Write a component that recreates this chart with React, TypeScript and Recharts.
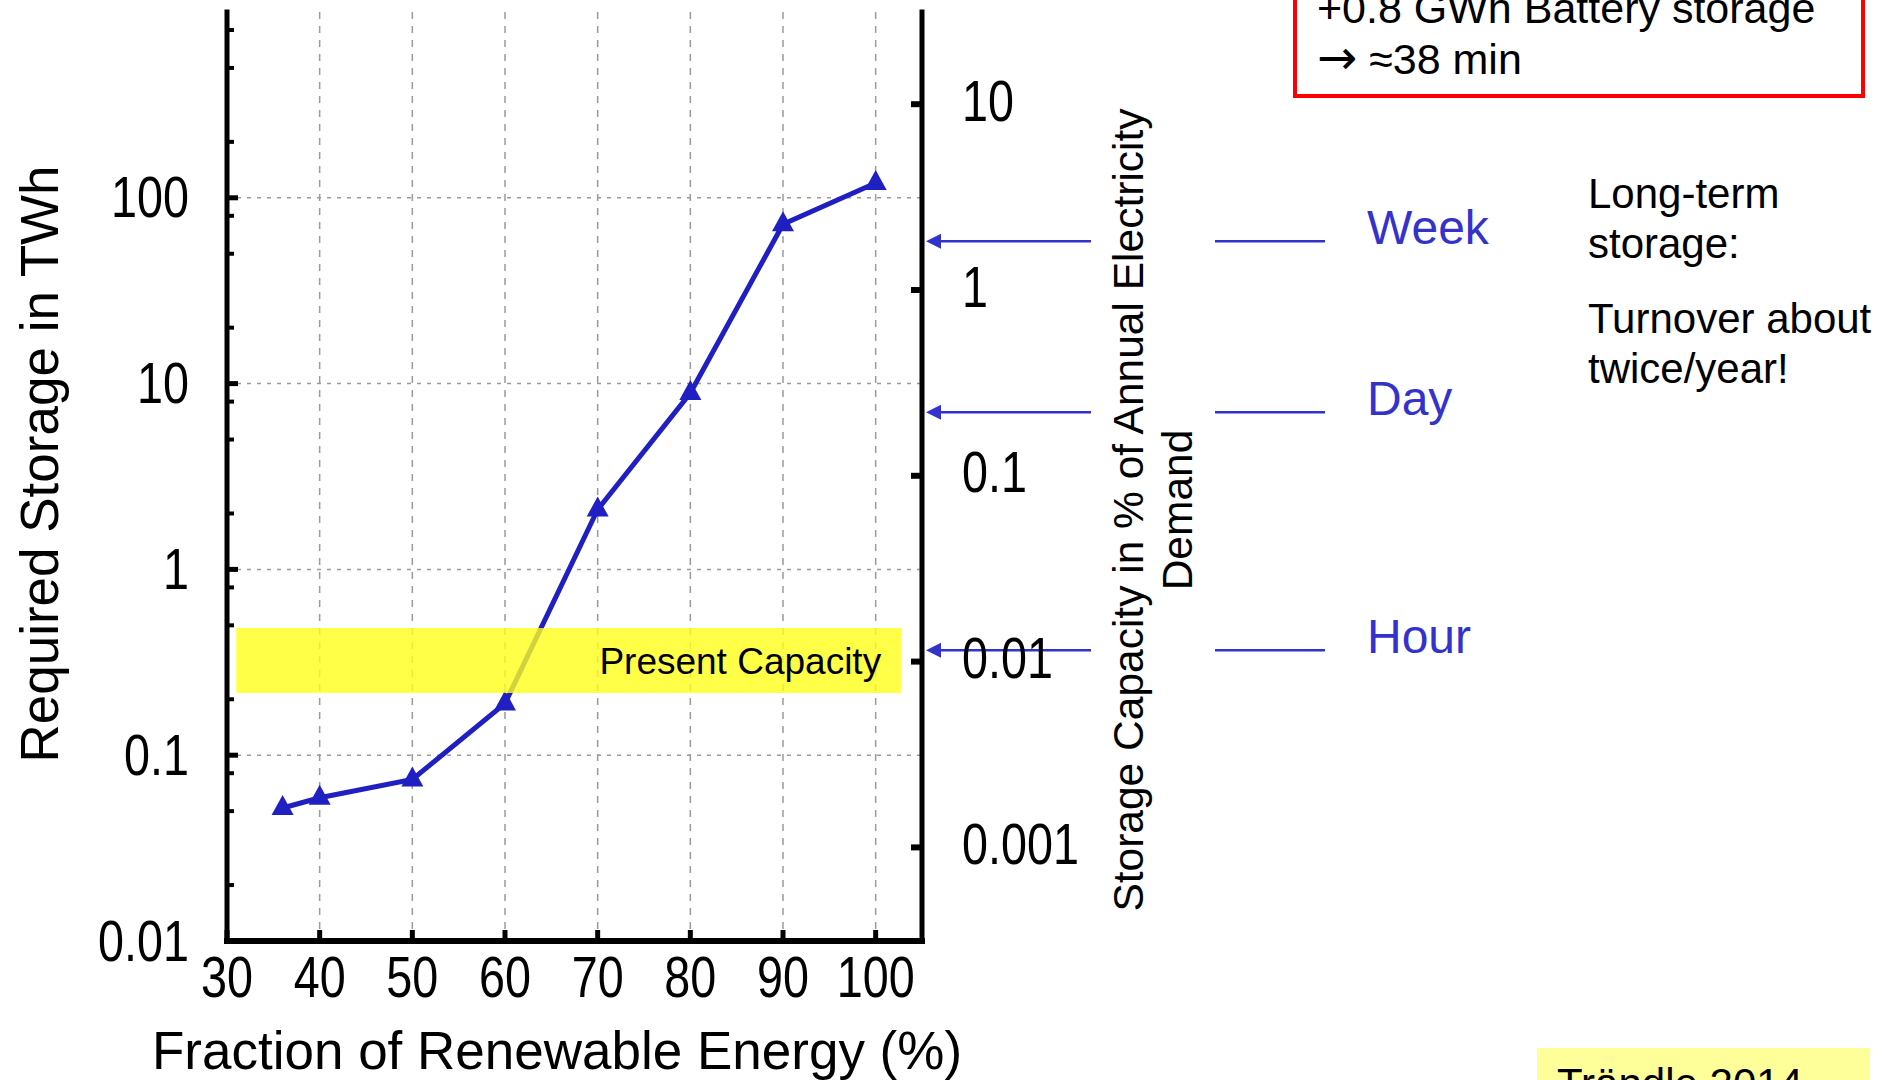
import React from "react";
import {
  CartesianGrid,
  Line,
  LineChart,
  ReferenceArea,
  ReferenceLine,
  XAxis,
  YAxis,
} from "recharts";

// renewable share (%) and required storage (TWh)
const renewableShare = [36, 40, 50, 60, 70, 80, 90, 100];
const storageTWh = [0.052, 0.059, 0.074, 0.19, 2.1, 8.9, 72, 120];

const xTicks = [30, 40, 50, 60, 70, 80, 90, 100];
const xGridValues = [40, 50, 60, 70, 80, 90, 100];
const leftMajorTicks = [0.01, 0.1, 1, 10, 100];
const leftMinorTicks = [0.02, 0.05, 0.08, 0.2, 0.5, 0.8, 2, 5, 8, 20, 50, 80, 200, 500, 800];
const leftGridValues = [0.1, 1, 10, 100];
const rightTicks = [0.001, 0.01, 0.1, 1, 10];

// TWh that make up 1 % of annual electricity demand
const TWH_PER_PERCENT = 31.9;

const durationLabels = ["Week", "Day", "Hour"];
const durationPercent = [1.83, 0.22, 0.0115];

// present storage capacity band (TWh) and its x extent
const capacityRange = [0.216, 0.484];
const capacityShare = [31, 102.75];

const FONT = "'Liberation Sans', Arial, Helvetica, sans-serif";
const LINE_BLUE = "#1f1fc2";
const NOTE_BLUE = "#3333cc";

const data = renewableShare.map((share, i) => ({ share, storage: storageTWh[i] }));
const leftTicks = [...leftMajorTicks, ...leftMinorTicks].sort((a, b) => a - b);

const fmt = (v: number) => String(v);

function LeftTick(props: any) {
  const { x, y, payload } = props;
  const major = leftMajorTicks.includes(payload.value);
  return (
    <g>
      <line x1={x} x2={x + (major ? 11 : 7)} y1={y} y2={y} stroke="#000" strokeWidth={major ? 5 : 4} />
      {major && (
        <text
          transform={`translate(${x - 38},${y}) scale(0.82,1)`}
          textAnchor="end"
          dominantBaseline="central"
          fontSize={57}
          fontFamily={FONT}
          fill="#000"
        >
          {fmt(payload.value)}
        </text>
      )}
    </g>
  );
}

function RightTick(props: any) {
  const { x, y, payload } = props;
  return (
    <g>
      <line x1={x} x2={x - 11} y1={y} y2={y} stroke="#000" strokeWidth={6} />
      <text
        transform={`translate(${x + 40},${y - 3}) scale(0.82,1)`}
        textAnchor="start"
        dominantBaseline="central"
        fontSize={57}
        fontFamily={FONT}
        fill="#000"
      >
        {fmt(payload.value)}
      </text>
    </g>
  );
}

function BottomTick(props: any) {
  const { x, y, payload } = props;
  return (
    <g>
      <line x1={x} x2={x} y1={y} y2={y - 11} stroke="#000" strokeWidth={5} />
      <text
        transform={`translate(${x},${y + 36}) scale(0.82,1)`}
        textAnchor="middle"
        dominantBaseline="central"
        fontSize={57}
        fontFamily={FONT}
        fill="#000"
      >
        {fmt(payload.value)}
      </text>
    </g>
  );
}

function TopTick(props: any) {
  const { x, y } = props;
  return <line x1={x} x2={x} y1={y} y2={y + 11} stroke="#000" strokeWidth={5} />;
}

function TriangleDot(props: any) {
  const { cx, cy, index } = props;
  return (
    <path
      key={`tri-${index}`}
      d={`M${cx},${cy - 13} L${cx + 11},${cy + 7} L${cx - 11},${cy + 7} Z`}
      fill={LINE_BLUE}
    />
  );
}

function durationShape(label: string) {
  return (props: any) => {
    const { x1, x2, y1 } = props;
    const right = Math.max(x1, x2);
    const y = y1;
    const tip = right + 4;
    return (
      <g>
        <line x1={tip + 12} x2={right + 169} y1={y} y2={y} stroke={NOTE_BLUE} strokeWidth={2.5} />
        <path d={`M${tip},${y} L${tip + 15},${y - 7.5} L${tip + 15},${y + 7.5} Z`} fill={NOTE_BLUE} />
        <line x1={right + 293} x2={right + 403} y1={y} y2={y} stroke={NOTE_BLUE} strokeWidth={2.5} />
        <text x={right + 445} y={y + 3} fontSize={48} fontFamily={FONT} fill={NOTE_BLUE}>
          {label}
        </text>
      </g>
    );
  };
}

export default function App() {
  return (
    <div style={{ position: "relative", width: 1897, height: 1080, overflow: "hidden", background: "#fff" }}>
      <style>{`html,body{margin:0;padding:0;overflow:hidden;background:#fff}`}</style>
      <LineChart
        width={1897}
        height={1080}
        data={data}
        margin={{ top: 12, right: 775, bottom: 0, left: 0 }}
        style={{ overflow: "visible" }}
      >
        <CartesianGrid
          xAxisId="bottom"
          yAxisId="left"
          vertical={false}
          horizontalValues={leftGridValues}
          stroke="#9a9a9a"
          strokeWidth={1.5}
          strokeDasharray="4 6"
        />
        <CartesianGrid
          xAxisId="bottom"
          yAxisId="left"
          horizontal={false}
          verticalValues={xGridValues}
          stroke="#9a9a9a"
          strokeWidth={1.5}
          strokeDasharray="7 7"
        />
        <XAxis
          xAxisId="bottom"
          dataKey="share"
          type="number"
          domain={[30, 105]}
          ticks={xTicks}
          interval={0}
          allowDataOverflow
          height={139}
          tickSize={0}
          tickMargin={0}
          tickLine={false}
          tick={<BottomTick />}
          axisLine={{ stroke: "#000", strokeWidth: 6, strokeLinecap: "square" }}
        />
        <XAxis
          xAxisId="top"
          orientation="top"
          dataKey="share"
          type="number"
          domain={[30, 105]}
          ticks={xGridValues}
          interval={0}
          allowDataOverflow
          height={0}
          tickSize={0}
          tickMargin={0}
          tickLine={false}
          tick={<TopTick />}
          axisLine={{ stroke: "#000", strokeWidth: 6, strokeLinecap: "square" }}
        />
        <YAxis
          yAxisId="left"
          type="number"
          scale="log"
          domain={[0.01, 1000]}
          ticks={leftTicks}
          interval={0}
          allowDataOverflow
          width={227}
          tickSize={0}
          tickMargin={0}
          tickLine={false}
          tick={<LeftTick />}
          axisLine={{ stroke: "#000", strokeWidth: 5, strokeLinecap: "square" }}
        />
        <YAxis
          yAxisId="right"
          orientation="right"
          type="number"
          scale="log"
          domain={[0.01 / TWH_PER_PERCENT, 1000 / TWH_PER_PERCENT]}
          ticks={rightTicks}
          interval={0}
          allowDataOverflow
          width={200}
          tickSize={0}
          tickMargin={0}
          tickLine={false}
          tick={<RightTick />}
          axisLine={{ stroke: "#000", strokeWidth: 5, strokeLinecap: "square" }}
        />
        <Line
          xAxisId="bottom"
          yAxisId="left"
          dataKey="storage"
          type="linear"
          stroke={LINE_BLUE}
          strokeWidth={5}
          dot={TriangleDot}
          activeDot={false}
          isAnimationActive={false}
        />
        <ReferenceArea
          xAxisId="bottom"
          yAxisId="left"
          x1={capacityShare[0]}
          x2={capacityShare[1]}
          y1={capacityRange[0]}
          y2={capacityRange[1]}
          fill="#ffff1a"
          fillOpacity={0.8}
          stroke="none"
          zIndex={700}
          label={{
            value: "Present Capacity",
            position: "insideRight",
            offset: 20,
            fontSize: 37,
            fill: "#000",
            fontFamily: FONT,
          }}
        />
        {durationLabels.map((label, i) => (
          <ReferenceLine
            key={label}
            xAxisId="bottom"
            yAxisId="right"
            y={durationPercent[i]}
            stroke="none"
            shape={durationShape(label)}
          />
        ))}
      </LineChart>

      <svg
        width={1897}
        height={1080}
        style={{ position: "absolute", left: 0, top: 0, pointerEvents: "none" }}
        fontFamily={FONT}
      >
        <text transform="translate(58,464) rotate(-90)" textAnchor="middle" fontSize={53} fill="#000">
          Required Storage in TWh
        </text>
        <text x={557} y={1069} textAnchor="middle" fontSize={53} fill="#000">
          Fraction of Renewable Energy (%)
        </text>
        <text transform="translate(1143,510) rotate(-90)" textAnchor="middle" fontSize={42.5} fill="#000">
          Storage Capacity in % of Annual Electricity
        </text>
        <text transform="translate(1192,510) rotate(-90)" textAnchor="middle" fontSize={42.5} fill="#000">
          Demand
        </text>

        <rect x={1295} y={-10} width={568} height={106} fill="#fff" stroke="#ff0000" strokeWidth={4} />
        <text x={1317} y={23} fontSize={43} fill="#000">
          +0.8 GWh Battery storage
        </text>
        <text x={1317} y={74} fontSize={43} fill="#000">
          <tspan fontFamily="'DejaVu Sans', sans-serif" fontSize={48}>→</tspan> ≈38 min
        </text>

        <text fontSize={42} fill="#000">
          <tspan x={1588} y={208}>Long-term</tspan>
          <tspan x={1588} y={258}>storage:</tspan>
          <tspan x={1588} y={333}>Turnover about</tspan>
          <tspan x={1588} y={383}>twice/year!</tspan>
        </text>

        <rect x={1537} y={1048} width={333} height={60} fill="#ffff99" />
        <text x={1557} y={1098} fontSize={42} fill="#000">
          Trändle 2014
        </text>
      </svg>
    </div>
  );
}
